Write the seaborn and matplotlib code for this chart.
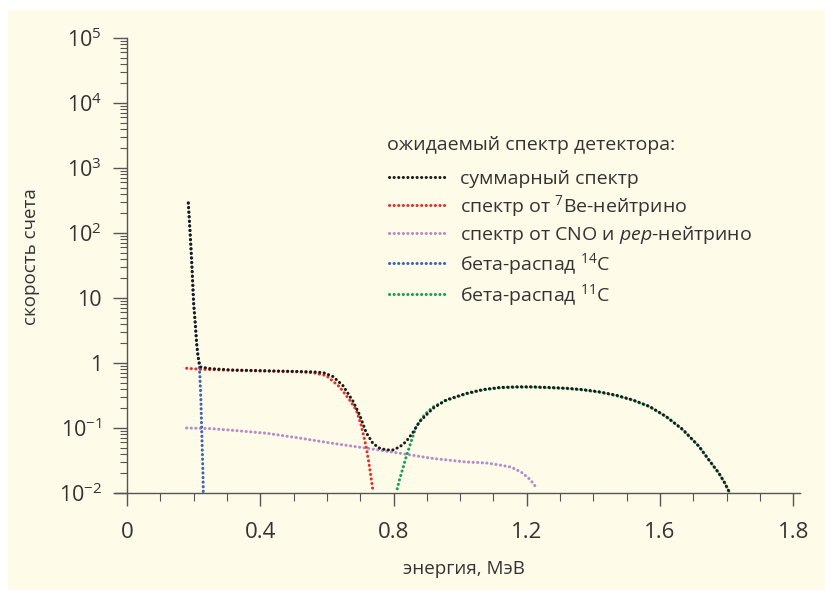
import matplotlib
matplotlib.use("Agg")
import matplotlib.pyplot as plt
import matplotlib.patches as mpatches
from matplotlib.lines import Line2D
import seaborn as sns
import pandas as pd

# данные (энергия, МэВ / скорость счета)
total_x = [0.184, 0.19, 0.195, 0.2, 0.205, 0.209, 0.213, 0.216, 0.22, 0.25, 0.318, 0.418, 0.518, 0.56,
           0.59, 0.618, 0.648, 0.678, 0.698, 0.718, 0.738, 0.758, 0.778, 0.798, 0.818, 0.838,
           0.858, 0.878, 0.918, 0.958, 1.018, 1.068, 1.118, 1.168, 1.218, 1.268, 1.318, 1.368,
           1.418, 1.468, 1.518, 1.568, 1.618, 1.668, 1.717, 1.747, 1.777, 1.795, 1.807]
total_y = [290, 90, 30, 8.3, 4.0, 2.0, 1.3, 1.05, 0.87, 0.82, 0.78, 0.76, 0.74, 0.73,
           0.71, 0.62, 0.45, 0.26, 0.16, 0.085, 0.058, 0.049, 0.046, 0.046, 0.051, 0.062,
           0.085, 0.125, 0.2, 0.27, 0.34, 0.39, 0.42, 0.43, 0.43, 0.42, 0.41, 0.39,
           0.36, 0.32, 0.27, 0.215, 0.15, 0.095, 0.052, 0.032, 0.02, 0.014, 0.0105]

be7_x = [0.179, 0.22, 0.318, 0.418, 0.518, 0.558, 0.598, 0.638, 0.668, 0.688, 0.703, 0.718, 0.728, 0.738]
be7_y = [0.83, 0.8, 0.77, 0.75, 0.73, 0.71, 0.64, 0.43, 0.27, 0.19, 0.11, 0.051, 0.025, 0.011]

cno_x = [0.179, 0.25, 0.319, 0.419, 0.518, 0.618, 0.718, 0.818, 0.918, 1.018, 1.078, 1.118, 1.153, 1.183, 1.205, 1.22, 1.228]
cno_y = [0.1, 0.098, 0.092, 0.083, 0.07, 0.058, 0.049, 0.041, 0.034, 0.03, 0.029, 0.027, 0.025, 0.021, 0.017, 0.014, 0.012]

c14_x = [0.184, 0.19, 0.195, 0.2, 0.205, 0.209, 0.213, 0.216, 0.219, 0.222, 0.224, 0.226, 0.228, 0.229]
c14_y = [290, 90, 30, 8.3, 4.0, 2.0, 1.3, 1.0, 0.6, 0.25, 0.1, 0.045, 0.02, 0.01]

c11_x = [0.808, 0.818, 0.828, 0.838, 0.853, 0.868, 0.893, 0.918, 0.958, 1.018, 1.068, 1.118, 1.168,
         1.218, 1.268, 1.318, 1.368, 1.418, 1.468, 1.518, 1.568, 1.618, 1.668, 1.717, 1.747,
         1.777, 1.795, 1.807]
c11_y = [0.01, 0.016, 0.024, 0.036, 0.062, 0.105, 0.16, 0.21, 0.265, 0.335, 0.385, 0.415, 0.425,
         0.425, 0.415, 0.405, 0.385, 0.355, 0.315, 0.268, 0.213, 0.15, 0.094, 0.052, 0.032,
         0.02, 0.014, 0.0105]

labels = ["суммарный спектр",
          r"спектр от $^7$Be-нейтрино",
          r"спектр от CNO и $\mathit{pep}$-нейтрино",
          r"бета-распад $^{14}$C",
          r"бета-распад $^{11}$C"]
colors = ["#1b1b1b", "#e2332b", "#b58ccb", "#3d63b3", "#1e9c5e"]
legend_title = "ожидаемый спектр детектора:"

xticks = [0, 0.4, 0.8, 1.2, 1.6, 2.0]
xtick_labels = ["0", "0.4", "0.8", "1.2", "1.6", "1.8"]
yticks = [1e-2, 1e-1, 1, 10, 1e2, 1e3, 1e4, 1e5]
ytick_labels = [r"$10^{-2}$", r"$10^{-1}$", "1", "10", r"$10^2$", r"$10^3$", r"$10^4$", r"$10^5$"]

sns.set_style("ticks")
plt.rcParams["font.family"] = ["Open Sans", "DejaVu Sans"]
plt.rcParams["mathtext.fontset"] = "custom"
plt.rcParams["mathtext.rm"] = "Open Sans"
plt.rcParams["mathtext.it"] = "Open Sans:italic"
plt.rcParams["text.color"] = "#333333"

bg = "#fefbe8"
dots = (0.05, 1.45)
fig = plt.figure(figsize=(8.25, 5.9), dpi=100, facecolor="white")
fig.patches.append(mpatches.Rectangle((8 / 825, -0.01), 1.02, 1.01 - 10 / 590, transform=fig.transFigure,
                                      facecolor=bg, edgecolor="none", zorder=-10))
ax = fig.add_axes([127 / 825, 1 - 493 / 590, (800 - 127) / 825, (493 - 38) / 590])
ax.set_facecolor("none")

series = [(total_x, total_y), (be7_x, be7_y), (cno_x, cno_y), (c14_x, c14_y), (c11_x, c11_y)]
zorders = [5, 3, 3, 3, 4]
for i in [2, 1, 3, 4, 0]:
    xs, ys = series[i]
    df = pd.DataFrame({"x": xs, "y": ys})
    offset = 1.6 if i == 4 else 0
    sns.lineplot(data=df, x="x", y="y", ax=ax, color=colors[i], sort=False,
                 estimator=None, linewidth=2.2, linestyle=(offset, dots),
                 dash_capstyle="round", zorder=zorders[i], legend=False)

ax.set_yscale("log")
ax.set_ylim(1e-2, 1e5)
ax.set_xlim(0, 2.02)
ax.set_xticks(xticks)
ax.set_xticklabels(xtick_labels)
ax.set_xticks([x / 10 for x in range(21)], minor=True)
ax.set_yticks(yticks)
ax.set_yticklabels(ytick_labels)
ax.yaxis.set_minor_locator(matplotlib.ticker.LogLocator(base=10, subs=range(2, 10), numticks=20))
ax.yaxis.set_minor_formatter(matplotlib.ticker.NullFormatter())

for s in ["top", "right"]:
    ax.spines[s].set_visible(False)
for s in ["left", "bottom"]:
    ax.spines[s].set_color("#555555")
    ax.spines[s].set_linewidth(1.0)
ax.spines["bottom"].set_bounds(-0.035, 2.02)

ax.tick_params(axis="both", which="major", length=10, width=1, color="#555555",
               labelsize=15.5, labelcolor="#333333", pad=8)
ax.tick_params(axis="both", which="minor", length=5, width=0.8, color="#555555")
ax.tick_params(axis="x", which="major", length=9, pad=12, labelsize=16)
ax.tick_params(axis="x", which="minor", length=6)

ax.set_xlabel("энергия, МэВ", fontsize=13.5, color="#333333", labelpad=12)
ax.set_ylabel("скорость счета", fontsize=13.5, color="#333333")
ax.yaxis.set_label_coords(-0.13, 0.52)

# легенда: заголовок отдельно, строки ниже
fig.text(387 / 825, 1 - 145 / 590, legend_title, fontsize=14, color="#333333", va="center", ha="left")
handles = [Line2D([], [], color=c, linewidth=2.2, linestyle=(0, dots), dash_capstyle="round")
           for c in colors]
leg = ax.legend(handles, labels, loc="upper left",
                bbox_to_anchor=(389 / 825, 1 - 170 / 590), bbox_transform=fig.transFigure,
                frameon=False, fontsize=14, handlelength=3.0, handletextpad=0.65,
                labelspacing=0.26, borderpad=0, borderaxespad=0)
for t in leg.get_texts():
    t.set_color("#333333")

fig.savefig("out.png", dpi=100, facecolor=fig.get_facecolor())
